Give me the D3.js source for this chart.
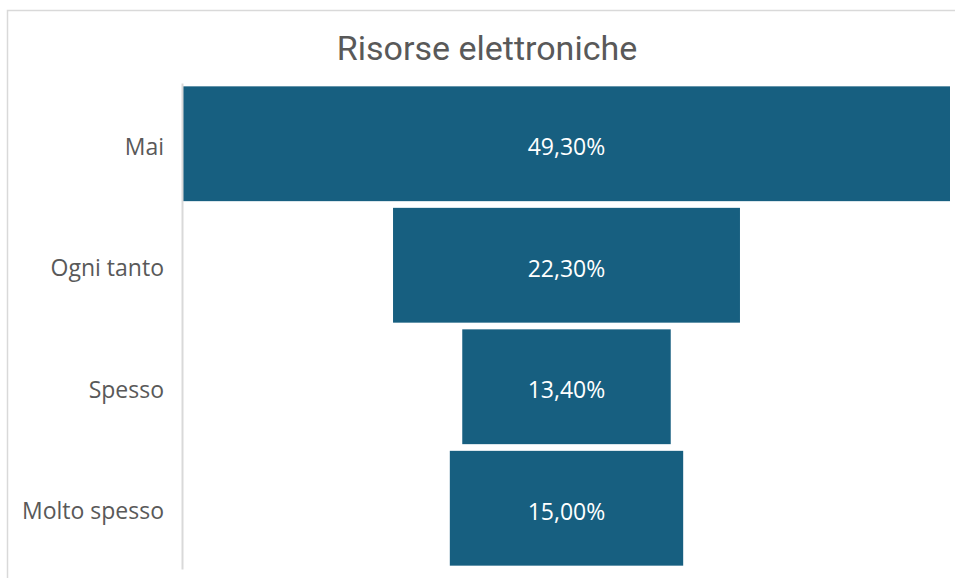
<html>
<head>
<meta charset="utf-8">
<title>Risorse elettroniche</title>
<style>
  body { margin: 0; background: #fff; }
  text { font-family: "Open Sans", "Noto Sans", sans-serif; }
</style>
<script src="https://d3js.org/d3.v7.min.js"></script>
</head>
<body>
<svg width="955" height="578"></svg>
<script>
var categories = ["Mai", "Ogni tanto", "Spesso", "Molto spesso"];
var values = [49.3, 22.3, 13.4, 15.0];
var valueLabels = ["49,30%", "22,30%", "13,40%", "15,00%"];

var svg = d3.select("svg");

// chart frame (cropped by the window on right/bottom)
svg.append("rect")
    .attr("x", 7.5).attr("y", 10.5)
    .attr("width", 1000).attr("height", 1000)
    .attr("fill", "#fff")
    .attr("stroke", "#d9d9d9")
    .attr("stroke-width", 1.5);

svg.append("text")
    .attr("x", 487).attr("y", 60)
    .attr("text-anchor", "middle")
    .attr("fill", "#595959")
    .style("font-family", "Roboto, sans-serif")
    .style("font-size", "34px")
    .text("Risorse elettroniche");

var cx = 566.5;
var x = d3.scaleLinear().domain([0, d3.max(values)]).range([0, 767]);
var y = d3.scaleBand().domain(categories).range([83, 569])
    .paddingInner(0.055).paddingOuter(0.0275);

var rows = categories.map(function(c, i) {
  return {cat: c, val: values[i], label: valueLabels[i]};
});

svg.selectAll(".bar")
  .data(rows)
  .enter().append("rect")
    .attr("class", "bar")
    .attr("x", d => cx - x(d.val) / 2)
    .attr("y", d => y(d.cat))
    .attr("width", d => x(d.val))
    .attr("height", y.bandwidth())
    .attr("fill", "#175f80");

svg.selectAll(".val")
  .data(rows)
  .enter().append("text")
    .attr("class", "val")
    .attr("x", cx)
    .attr("y", d => y(d.cat) + y.bandwidth() / 2)
    .attr("dy", "0.5em")
    .attr("text-anchor", "middle")
    .attr("fill", "#fff")
    .style("font-size", "23px")
    .text(d => d.label);

// category axis
var axis = svg.append("g")
    .attr("transform", "translate(182,0)")
    .call(d3.axisLeft(y).tickSize(0).tickPadding(18));
axis.select(".domain").attr("stroke", "#d9d9d9").attr("stroke-width", 2);
axis.selectAll("text")
    .attr("dy", "0.48em")
    .attr("fill", "#595959")
    .style("font-size", "23px")
    .style("font-family", "'Open Sans', 'Noto Sans', sans-serif");
</script>
</body>
</html>
